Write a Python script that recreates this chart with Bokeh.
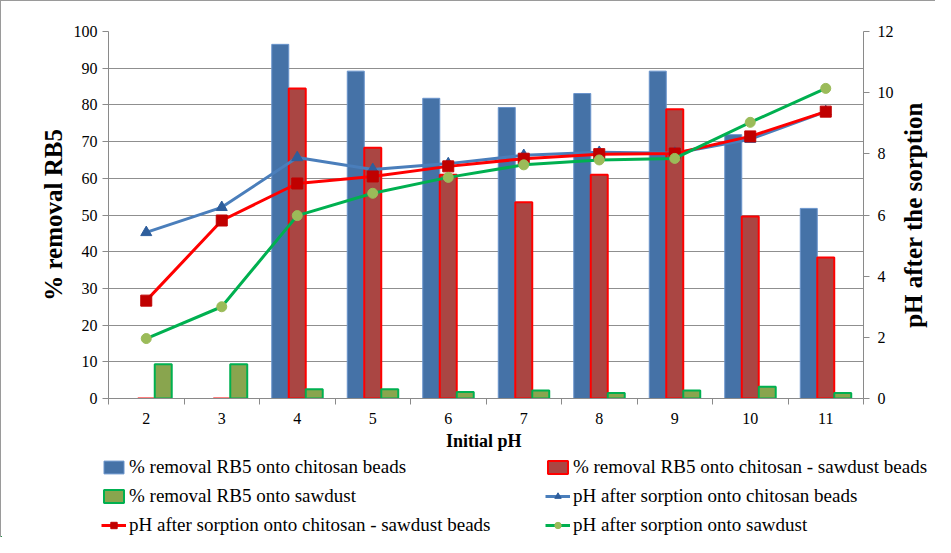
from bokeh.plotting import figure
from bokeh.layouts import row
from bokeh.models import (ColumnDataSource, Range1d, LinearAxis, FixedTicker,
                          Legend, LegendItem)
from bokeh.transform import dodge
from bokeh.embed import file_html
from bokeh.resources import INLINE

initial_ph = [2, 3, 4, 5, 6, 7, 8, 9, 10, 11]
removal_chitosan = [0, 0, 96.5, 89.2, 81.8, 79.3, 83.1, 89.2, 71.9, 51.8]
removal_chitosan_sawdust = [0, 0, 84.5, 68.3, 61.0, 53.5, 61.0, 78.8, 49.6, 38.4]
removal_sawdust = [9.3, 9.3, 2.5, 2.5, 1.8, 2.2, 1.5, 2.2, 3.2, 1.5]
ph_chitosan = [5.43, 6.25, 7.88, 7.49, 7.68, 7.95, 8.05, 8.02, 8.48, 9.38]
ph_chitosan_sawdust = [3.2, 5.82, 7.03, 7.26, 7.59, 7.84, 7.99, 8.01, 8.57, 9.38]
ph_sawdust = [1.96, 3.0, 5.98, 6.71, 7.23, 7.64, 7.8, 7.85, 9.03, 10.14]
series_labels = [
    "% removal RB5 onto chitosan beads",
    "% removal RB5 onto chitosan - sawdust beads",
    "% removal RB5 onto sawdust",
    "pH after sorption onto chitosan beads",
    "pH after sorption onto chitosan - sawdust beads",
    "pH after sorption onto sawdust",
]

src = ColumnDataSource(dict(x=initial_ph, rc=removal_chitosan, rcs=removal_chitosan_sawdust,
                            rs=removal_sawdust, pc=ph_chitosan, pcs=ph_chitosan_sawdust,
                            ps=ph_sawdust))

FONT = "Liberation Serif"
BW = 0.225
AXC = "#8a8a8a"


def draw_series(fig, rng, extra=None):
    kw = {} if extra is None else {"y_range_name": extra}
    b1 = fig.vbar(x=dodge("x", -BW, range=rng), top="rc", width=BW, source=src,
                  fill_color="#4572A7", line_color="#6a94cc", line_width=1)
    b2 = fig.vbar(x=dodge("x", 0, range=rng), top="rcs", width=BW, source=src,
                  fill_color="#AA4643", line_color="#FF0000", line_width=2)
    b3 = fig.vbar(x=dodge("x", BW, range=rng), top="rs", width=BW, source=src,
                  fill_color="#89A54E", line_color="#00B050", line_width=2)
    l1 = fig.line("x", "pc", source=src, line_color="#4A7EBB", line_width=3, **kw)
    m1 = fig.scatter("x", "pc", source=src, marker="triangle", size=11,
                     fill_color="#2E5E9C", line_color="#2E5E9C", **kw)
    l2 = fig.line("x", "pcs", source=src, line_color="#FF0000", line_width=3, **kw)
    m2 = fig.scatter("x", "pcs", source=src, marker="square", size=11,
                     fill_color="#C00000", line_color="#C00000", **kw)
    l3 = fig.line("x", "ps", source=src, line_color="#00B050", line_width=3, **kw)
    m3 = fig.scatter("x", "ps", source=src, marker="circle", size=10,
                     fill_color="#9BBB59", line_color="#9BBB59", **kw)
    return [[b1], [b2], [b3], [l1, m1], [l2, m2], [l3, m3]]


# ---------------- main chart ----------------
p = figure(width=895, height=455, output_backend="svg", toolbar_location=None,
           x_range=Range1d(1.5, 11.5), y_range=Range1d(0, 100),
           min_border_left=107, min_border_right=32, min_border_top=30, min_border_bottom=58,
           styles={"border-left": "1px solid #9a9a9a", "border-top": "1px solid #9a9a9a"})
p.extra_y_ranges = {"ph": Range1d(0, 12)}
p.outline_line_color = None
p.xgrid.grid_line_color = None
p.ygrid.grid_line_color = "#8f8f8f"
p.ygrid.grid_line_width = 1.2
p.ygrid.ticker = FixedTicker(ticks=list(range(10, 101, 10)))

draw_series(p, p.x_range, "ph")

xa = p.xaxis[0]
xa.ticker = FixedTicker(ticks=initial_ph, minor_ticks=[v + 0.5 for v in [1] + initial_ph])
xa.major_tick_line_color = None
xa.minor_tick_line_color = AXC
xa.minor_tick_in = 0
xa.minor_tick_out = 6
xa.axis_line_color = AXC
xa.axis_label = "Initial  pH"
xa.axis_label_text_font = FONT
xa.axis_label_text_font_style = "bold"
xa.axis_label_text_font_size = "18px"
xa.axis_label_text_color = "black"
xa.axis_label_standoff = 4
xa.major_label_text_font = FONT
xa.major_label_text_font_size = "16px"
xa.major_label_text_color = "black"
xa.major_label_standoff = 8

ya = p.yaxis[0]
ya.ticker = FixedTicker(ticks=list(range(0, 101, 10)))
ya.axis_label = "% removal RB5"
ya.axis_label_text_font = FONT
ya.axis_label_text_font_style = "bold"
ya.axis_label_text_font_size = "25px"
ya.axis_label_text_color = "black"
ya.axis_label_standoff = 4
ya.major_label_text_font = FONT
ya.major_label_text_font_size = "16px"
ya.major_label_text_color = "black"
ya.axis_line_color = AXC
ya.major_tick_line_color = AXC
ya.major_tick_in = 0
ya.major_tick_out = 6
ya.minor_tick_line_color = None

ra = LinearAxis(y_range_name="ph", ticker=FixedTicker(ticks=list(range(0, 13, 2))))
ra.major_label_text_font = FONT
ra.major_label_text_font_size = "16px"
ra.major_label_text_color = "black"
ra.major_label_standoff = 8
ra.axis_line_color = AXC
ra.major_tick_line_color = AXC
ra.major_tick_in = 0
ra.major_tick_out = 6
ra.minor_tick_line_color = None
p.add_layout(ra, "right")

# ---------------- right-hand title strip (reads bottom-to-top) ----------------
r = figure(width=40, height=455, output_backend="svg", toolbar_location=None,
           x_range=Range1d(0, 1), y_range=p.extra_y_ranges["ph"],
           x_axis_location=None, y_axis_location="left",
           min_border_left=31, min_border_right=0, min_border_top=30, min_border_bottom=58,
           styles={"border-top": "1px solid #9a9a9a"})
r.outline_line_color = None
r.grid.visible = False
rt = r.yaxis[0]
rt.ticker = FixedTicker(ticks=[])
rt.axis_line_color = None
rt.major_tick_line_color = None
rt.minor_tick_line_color = None
rt.major_tick_out = 0
rt.minor_tick_out = 0
rt.major_label_standoff = 0
rt.axis_label = "pH after the sorption"
rt.axis_label_text_font = FONT
rt.axis_label_text_font_style = "bold"
rt.axis_label_text_font_size = "25px"
rt.axis_label_text_color = "black"
rt.axis_label_standoff = 0

# ---------------- legend strip ----------------
q = figure(width=935, height=82, output_backend="svg", toolbar_location=None,
           x_range=Range1d(100, 101), y_range=Range1d(100, 101),
           x_axis_location=None, y_axis_location=None, min_border=0,
           styles={"border-left": "1px solid #9a9a9a"})
q.outline_line_color = None
q.grid.visible = False
proxies = draw_series(q, q.x_range)

PAD = "\u00a0" * 10
labels = list(series_labels)
labels[4] = labels[4] + PAD
items = [LegendItem(label=lab, renderers=rr) for lab, rr in zip(labels, proxies)]
leg = Legend(items=items, location=(100, 1), orientation="horizontal", ncols=2,
             label_text_font=FONT, label_text_font_size="19px", label_text_color="black",
             glyph_width=25, glyph_height=16, label_standoff=3,
             spacing=7, padding=0, margin=0, border_line_color=None,
             background_fill_alpha=0)
q.add_layout(leg, "center")

open("out.html", "w").write(file_html([row(p, r), q], INLINE))
